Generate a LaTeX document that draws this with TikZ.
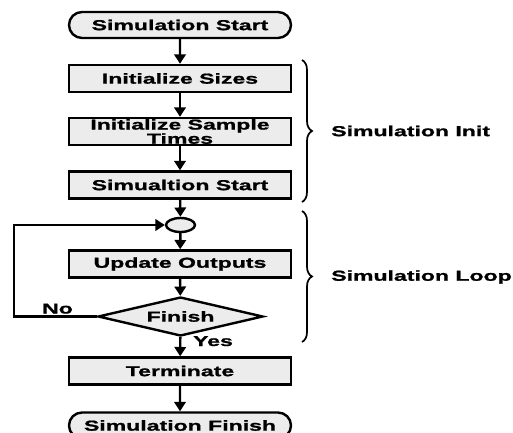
\documentclass[tikz,border=0pt]{standalone}
\usepackage{fontspec}
\newfontfamily\flowfont{Liberation Sans}[FakeStretch=1.6,FakeBold=1.2]
\usetikzlibrary{arrows.meta,shapes.misc,shapes.geometric,decorations.pathreplacing}
\tikzset{
  blk/.style={draw, line width=1.8pt, fill=gray!15, minimum width=166.5pt, minimum height=20.25pt, inner sep=0pt, align=center},
  term/.style={blk, rounded rectangle, minimum height=19.5pt},
  junc/.style={draw, line width=1.8pt, fill=gray!15, ellipse, minimum width=21.75pt, minimum height=10.5pt, inner sep=0pt},
  cond/.style={draw, line width=1.8pt, fill=gray!15, diamond, aspect=4.2, minimum width=123.75pt, minimum height=29.25pt, inner sep=0pt},
  flow/.style={line width=1.8pt, -{Triangle[length=7pt,width=8.5pt]}},
  grp/.style={line width=1.3pt, decorate, decoration={brace, amplitude=7.5pt}},
  lbl/.style={inner sep=0.75pt},
}
\begin{document}
\begin{tikzpicture}[x=0.75pt,y=0.75pt,yscale=-1,xscale=1,
  font=\flowfont\bfseries\fontsize{10.8}{10.6}\selectfont]
\useasboundingbox (0,0) rectangle (513,432);

%Shape: Terminator
\node [term] (start) at (180,25) {Simulation Start};
%Shape: Rectangle
\node [blk] (sizes) at (180,78.5) {Initialize Sizes};
%Shape: Rectangle
\node [blk] (times) at (180,131.5) {Initialize Sample\\Times};
%Shape: Rectangle
\node [blk] (simstart) at (180,185) {Simualtion Start};
%Shape: Ellipse
\node [junc] (merge) at (180.5,225) {};
%Shape: Rectangle
\node [blk] (update) at (180,264) {Update Outputs};
%Shape: Diamond
\node [cond] (finish) at (180.5,316.5) {Finish};
%Shape: Rectangle
\node [blk] (terminate) at (180,371) {Terminate};
%Shape: Terminator
\node [term] (stop) at (180,425.5) {Simulation Finish};

%Straight Lines
\draw [flow] (start) -- (sizes);
\draw [flow] (sizes) -- (times);
\draw [flow] (times) -- (simstart);
\draw [flow] (simstart) -- (merge);
\draw [flow] (merge) -- (update);
\draw [flow] (update) -- (finish);
\draw [flow] (finish) -- (terminate);
\draw [flow] (terminate) -- (stop);
%Loop back
\coordinate (loopbot) at (14,316.5);
\draw [flow] (finish.west) -- (loopbot) |- (merge.west);

%Braces
\draw [grp] (302,60) -- (302,202) coordinate[midway] (initmid);
\draw [grp] (302,211) -- (302,342) coordinate[midway] (loopmid);

% Text Node
\node [lbl, anchor=west] (initlbl) at (330,131) {Simulation Init};
% Text Node
\node [lbl, anchor=west] (looplbl) at (330,277) {Simulation Loop};
% Text Node
\node [lbl, anchor=base] (nolbl) at (57.5,313.5) {No};
% Text Node
\node [lbl, anchor=base] (yeslbl) at (213,346) {Yes};

\end{tikzpicture}
\end{document}
